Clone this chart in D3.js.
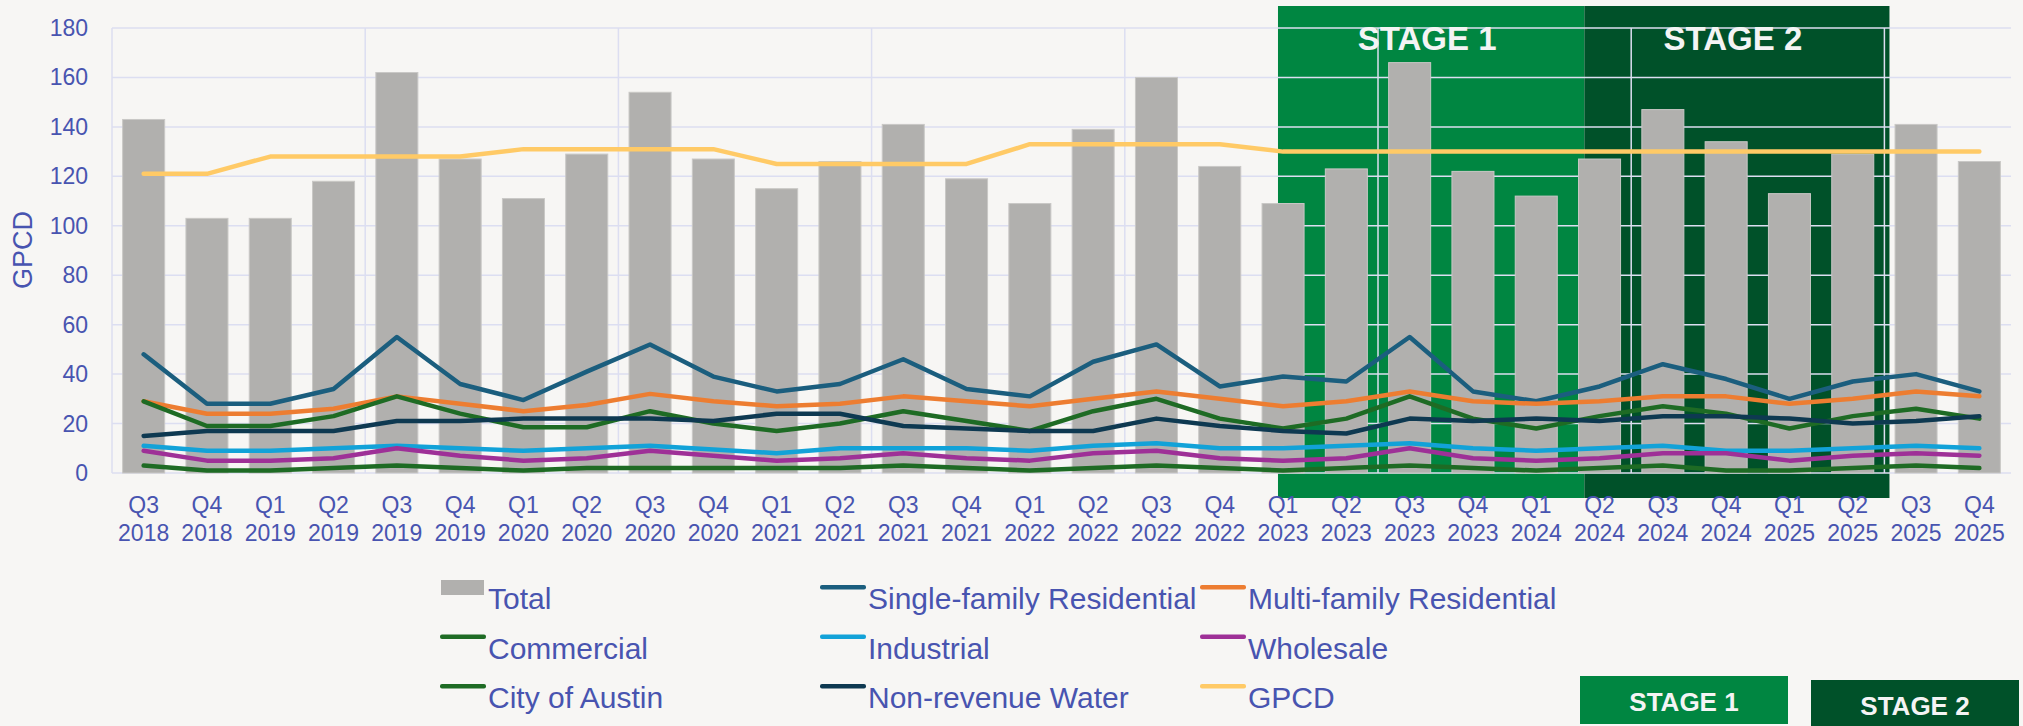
<!DOCTYPE html>
<html>
<head>
<meta charset="utf-8">
<script src="https://cdn.jsdelivr.net/npm/d3@7"></script>
<style>
    body { margin: 0; background: #f7f6f4; }
    svg { display: block; font-family: "Liberation Sans", Arial, sans-serif; }
    .grid line { stroke: #dcdef1; stroke-width: 1.5; }
    .axisText { fill: #4854b0; font-size: 23px; }
    .legendText { fill: #4854b0; font-size: 30px; }
    .stageText { fill: #f4f4f4; font-weight: bold; }
</style>
</head>
<body>
<div id="chart"></div>
<script>
var quarters = ["Q3 2018","Q4 2018","Q1 2019","Q2 2019","Q3 2019","Q4 2019","Q1 2020","Q2 2020",
    "Q3 2020","Q4 2020","Q1 2021","Q2 2021","Q3 2021","Q4 2021","Q1 2022","Q2 2022","Q3 2022",
    "Q4 2022","Q1 2023","Q2 2023","Q3 2023","Q4 2023","Q1 2024","Q2 2024","Q3 2024","Q4 2024",
    "Q1 2025","Q2 2025","Q3 2025","Q4 2025"];
var total = [143,103,103,118,162,127,111,129,154,127,115,126,141,119,109,139,160,124,109,123,166,122,112,127,147,134,113,129,141,126];
var singleFamily = [48,28,28,34,55,36,29.5,41,52,39,33,36,46,34,31,45,52,35,39,37,55,33,29,35,44,38,30,37,40,33];
var multiFamily = [29,24,24,26,31,28,25,27.5,32,29,27,28,31,29,27,30,33,30,27,29,33,29,28,29,31,31,28,30,33,31];
var commercial = [29,19,19,23,31,24,18.5,18.5,25,20,17,20,25,21,17,25,30,22,18,22,31,22,18,23,27,24,18,23,26,22];
var industrial = [11,9,9,10,11,10,9,10,11,9.5,8,10,10,10,9,11,12,10,10,11,12,10,9,10,11,9,9,10,11,10];
var wholesale = [9,5,5,6,10,7,5,6,9,7,5,6,8,6,5,8,9,6,5,6,10,6,5,6,8,8,5,7,8,7];
var cityOfAustin = [3,1,1,2,3,2,1,2,2,2,2,2,3,2,1,2,3,2,1,2,3,2,1,2,3,1,1,2,3,2];
var nonRevenue = [15,17,17,17,21,21,22,22,22,21,24,24,19,18,17,17,22,19,17,16,22,21,22,21,23,23,22,20,21,23];
var gpcd = [121,121,128,128,128,128,131,131,131,131,125,125,125,125,133,133,133,133,130,130,130,130,130,130,130,130,130,130,130,130];
var yTicks = [0,20,40,60,80,100,120,140,160,180];

// stage periods, in category positions
var stageNames = ["STAGE 1", "STAGE 2"];
var stageStart = [18.42, 23.26];
var stageEnd = [23.26, 28.08];
var stageColors = ["#008641", "#005129"];

function init(){
    var w = 2023;
    var h = 726;
    var left = 112, right = 2011, top = 28, bottom = 473;

    var series = [
        {name: "Single-family Residential", values: singleFamily, color: "#1b5e7e"},
        {name: "Multi-family Residential", values: multiFamily, color: "#ed7d31"},
        {name: "Commercial", values: commercial, color: "#1e6b24"},
        {name: "Industrial", values: industrial, color: "#12a2d8"},
        {name: "Wholesale", values: wholesale, color: "#9e3097"},
        {name: "City of Austin", values: cityOfAustin, color: "#1e6b24"},
        {name: "Non-revenue Water", values: nonRevenue, color: "#0e3951"},
        {name: "GPCD", values: gpcd, color: "#ffca66"}
    ];

    var xScale = d3.scaleBand()
        .domain(quarters)
        .range([left, right])
        .paddingInner(0.336)
        .paddingOuter(0.168);
    var xCenter = function(i) { return xScale(quarters[i]) + xScale.bandwidth() / 2; };
    var xPos = d3.scaleLinear().domain([0, quarters.length]).range([left, right]);

    var yScale = d3.scaleLinear()
        .domain([0, 180])
        .range([bottom, top]);

    var svg = d3.select("#chart")
        .append("svg")
        .attr("width", w)
        .attr("height", h);

    svg.append("rect").attr("width", w).attr("height", h).attr("fill", "#f7f6f4");

    //stage boxes behind everything
    svg.selectAll(".stage")
        .data(stageNames)
        .enter()
        .append("rect")
        .attr("x", function(d, i) { return xPos(stageStart[i]); })
        .attr("width", function(d, i) { return xPos(stageEnd[i]) - xPos(stageStart[i]); })
        .attr("y", top - 22)
        .attr("height", bottom - top + 47)
        .attr("fill", function(d, i) { return stageColors[i]; });

    //gridlines
    var grid = svg.append("g").attr("class", "grid");
    grid.selectAll(".hg")
        .data(yTicks)
        .enter()
        .append("line")
        .attr("x1", left)
        .attr("x2", right)
        .attr("y1", function(d) { return yScale(d); })
        .attr("y2", function(d) { return yScale(d); });
    grid.selectAll(".vg")
        .data(d3.range(0, quarters.length, 4))
        .enter()
        .append("line")
        .attr("x1", function(d) { return xPos(d); })
        .attr("x2", function(d) { return xPos(d); })
        .attr("y1", top)
        .attr("y2", bottom);

    //total bars
    svg.selectAll(".bar")
        .data(total)
        .enter()
        .append("rect")
        .attr("x", function(d, i) { return xScale(quarters[i]); })
        .attr("y", function(d) { return yScale(d); })
        .attr("width", xScale.bandwidth())
        .attr("height", function(d) { return bottom - yScale(d); })
        .attr("fill", "#b1b0ae")
        .attr("stroke", "#c9c8c6")
        .attr("stroke-width", 1);

    //lines
    var line = d3.line()
        .x(function(d, i) { return xCenter(i); })
        .y(function(d) { return yScale(d); });

    svg.selectAll(".series")
        .data(series)
        .enter()
        .append("path")
        .attr("d", function(d) { return line(d.values); })
        .attr("fill", "none")
        .attr("stroke", function(d) { return d.color; })
        .attr("stroke-width", 4.5)
        .attr("stroke-linejoin", "round")
        .attr("stroke-linecap", "round");

    //stage titles
    svg.selectAll(".stageTitle")
        .data(stageNames)
        .enter()
        .append("text")
        .attr("class", "stageText")
        .attr("x", function(d, i) { return (xPos(stageStart[i]) + xPos(stageEnd[i])) / 2 - 4; })
        .attr("y", 50)
        .attr("text-anchor", "middle")
        .style("font-size", "33px")
        .text(function(d) { return d; });

    //y axis labels
    svg.selectAll(".ytick")
        .data(yTicks)
        .enter()
        .append("text")
        .attr("class", "axisText")
        .attr("x", 88)
        .attr("y", function(d) { return yScale(d) + 8; })
        .attr("text-anchor", "end")
        .text(function(d) { return d; });

    svg.append("text")
        .attr("class", "axisText")
        .attr("transform", "translate(32,250) rotate(-90)")
        .attr("text-anchor", "middle")
        .style("font-size", "27px")
        .text("GPCD");

    //x axis labels in two lines
    var xl = svg.selectAll(".xtick")
        .data(quarters)
        .enter()
        .append("text")
        .attr("class", "axisText")
        .attr("text-anchor", "middle");
    xl.append("tspan")
        .attr("x", function(d) { return xScale(d) + xScale.bandwidth() / 2; })
        .attr("y", 513)
        .text(function(d) { return d.split(" ")[0]; });
    xl.append("tspan")
        .attr("x", function(d) { return xScale(d) + xScale.bandwidth() / 2; })
        .attr("y", 541)
        .text(function(d) { return d.split(" ")[1]; });

    //legend
    var legendItems = [{name: "Total", color: "#b1b0ae", box: true}].concat(series);
    var lg = svg.selectAll(".legend")
        .data(legendItems)
        .enter()
        .append("g")
        .attr("transform", function(d, i) {
            return "translate(" + (440 + (i % 3) * 380) + "," + (609 + Math.floor(i / 3) * 49.5) + ")";
        });
    lg.append("rect")
        .attr("x", function(d) { return d.box ? 1 : 0; })
        .attr("y", function(d) { return d.box ? -29 : -24; })
        .attr("width", function(d) { return d.box ? 43 : 46; })
        .attr("height", function(d) { return d.box ? 15 : 4.5; })
        .attr("rx", function(d) { return d.box ? 0 : 2; })
        .attr("fill", function(d) { return d.color; });
    lg.append("text")
        .attr("class", "legendText")
        .attr("x", 48)
        .attr("y", 0)
        .text(function(d) { return d.name; });

    //stage legend boxes
    var sl = svg.selectAll(".stageLegend")
        .data(stageNames)
        .enter()
        .append("g")
        .attr("transform", function(d, i) { return "translate(" + (1580 + i * 231) + "," + (676 + i * 4) + ")"; });
    sl.append("rect")
        .attr("width", 208)
        .attr("height", 48)
        .attr("fill", function(d, i) { return stageColors[i]; });
    sl.append("text")
        .attr("class", "stageText")
        .attr("x", 104)
        .attr("y", 35)
        .attr("text-anchor", "middle")
        .style("font-size", "26px")
        .text(function(d) { return d; });
}
window.onload = init;
</script>
</body>
</html>
